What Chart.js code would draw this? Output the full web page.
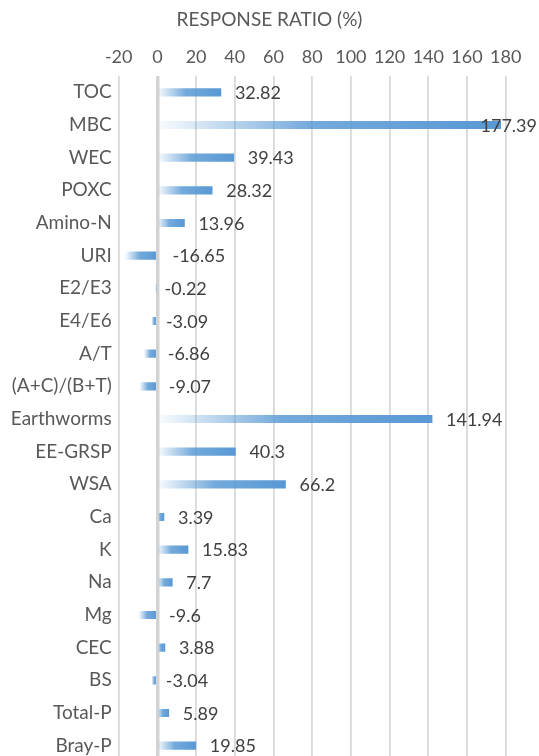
<!DOCTYPE html>
<html>
<head>
<meta charset="utf-8">
<script src="https://cdn.jsdelivr.net/npm/chart.js@4.4.1/dist/chart.umd.min.js"></script>
<style>
  html, body { margin: 0; padding: 0; background: #ffffff; overflow: hidden; }
  canvas { display: block; }
</style>
</head>
<body>
<canvas id="chart" width="539" height="762"></canvas>
<script>
// Soil indicators and their response ratio (%)
const categories = [
  'TOC', 'MBC', 'WEC', 'POXC', 'Amino-N', 'URI', 'E2/E3', 'E4/E6', 'A/T',
  '(A+C)/(B+T)', 'Earthworms', 'EE-GRSP', 'WSA', 'Ca', 'K', 'Na', 'Mg',
  'CEC', 'BS', 'Total-P', 'Bray-P'
];
const responseRatio = [
  32.82, 177.39, 39.43, 28.32, 13.96, -16.65, -0.22, -3.09, -6.86,
  -9.07, 141.94, 40.3, 66.2, 3.39, 15.83, 7.7, -9.6,
  3.88, -3.04, 5.89, 19.85
];
const tickValues = [-20, 0, 20, 40, 60, 80, 100, 120, 140, 160, 180];
const axisTitle = 'RESPONSE RATIO (%)';

const FONT = 'Lato, "Open Sans", sans-serif';
const TEXT_GREY = '#595959';

// Horizontal fade: pale at the left end of each bar, solid blue at the right end
function barFill(ctx) {
  const chart = ctx.chart;
  const xs = chart.scales.x;
  if (ctx.type !== 'data' || !chart.chartArea || !xs) return 'rgb(91,155,213)';
  const v = ctx.raw;
  const a = xs.getPixelForValue(Math.min(0, v));
  const b = xs.getPixelForValue(Math.max(0, v));
  if (b - a < 1) return 'rgba(91,155,213,0.2)';
  const g = chart.ctx.createLinearGradient(a, 0, b, 0);
  g.addColorStop(0, 'rgba(91,155,213,0.03)');
  g.addColorStop(0.45, 'rgba(91,155,213,0.85)');
  g.addColorStop(1, 'rgba(88,152,212,1)');
  return g;
}

// Value labels next to each bar
const valueLabels = {
  id: 'valueLabels',
  afterDatasetsDraw(chart) {
    const { ctx } = chart;
    const xs = chart.scales.x;
    const meta = chart.getDatasetMeta(0);
    const x0 = xs.getPixelForValue(0);
    ctx.save();
    ctx.font = '18px ' + FONT;
    ctx.fillStyle = '#404040';
    ctx.textBaseline = 'middle';
    ctx.textAlign = 'left';
    meta.data.forEach((bar, i) => {
      const v = responseRatio[i];
      const text = String(v);
      const w = ctx.measureText(text).width;
      const xv = xs.getPixelForValue(v);
      let left = v >= 0 ? xv + 14 : x0 + 7 + 0.25 * (x0 - xv);
      if (left + w > chart.width - 2) left = chart.width - 2 - w;
      ctx.fillText(text, left, bar.y + 1);
    });
    ctx.restore();
  }
};

new Chart(document.getElementById('chart'), {
  type: 'bar',
  data: {
    labels: categories,
    datasets: [{
      data: responseRatio,
      backgroundColor: barFill,
      borderWidth: 0,
      barThickness: 7.5
    }]
  },
  options: {
    indexAxis: 'y',
    responsive: false,
    animation: false,
    layout: { padding: 0 },
    plugins: {
      legend: { display: false },
      tooltip: { enabled: false },
      title: {
        display: true,
        text: axisTitle,
        color: TEXT_GREY,
        font: { family: FONT, size: 19, weight: 'normal' },
        lineHeight: 1.2,
        padding: { top: 8.6, bottom: 14.8 }
      }
    },
    scales: {
      x: {
        position: 'top',
        min: -20,
        max: 180,
        afterBuildTicks(scale) {
          scale.ticks = tickValues.map(v => ({ value: v }));
        },
        afterFit(scale) {
          scale.height = 29.8;
          scale.paddingLeft = 0;
          scale.paddingRight = 33.3;
        },
        ticks: {
          color: TEXT_GREY,
          font: { family: FONT, size: 18 },
          padding: 8,
          maxRotation: 0
        },
        grid: {
          drawTicks: false,
          color: c => (c.tick && c.tick.value === 0) ? '#d3d3d3' : '#d9d9d9',
          lineWidth: c => (c.tick && c.tick.value === 0) ? 3.5 : 1.8
        },
        border: { display: false }
      },
      y: {
        afterFit(scale) {
          scale.width = 118.7;
          scale.paddingTop = 0;
          scale.paddingBottom = 0;
        },
        ticks: {
          color: TEXT_GREY,
          font: { family: FONT, size: 19 },
          padding: 7,
          autoSkip: false
        },
        grid: { display: false, drawTicks: false },
        border: { display: false }
      }
    }
  },
  plugins: [valueLabels]
});
</script>
</body>
</html>
